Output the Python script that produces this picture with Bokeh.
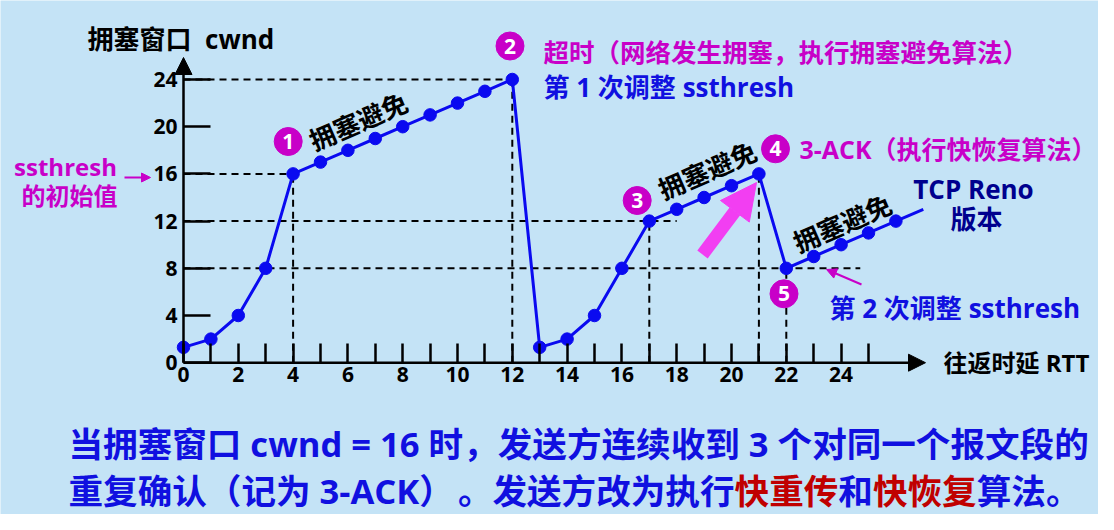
from bokeh.plotting import figure
from bokeh.models import Range1d, FixedTicker, Arrow, NormalHead
from bokeh.core.properties import value
from bokeh.embed import file_html
from bokeh.resources import INLINE

# ---------------- data ----------------
rtt = list(range(0, 27))
cwnd = [1.3, 2, 4, 8, 16, 17, 18, 19, 20, 21, 22, 23, 24,
        1.3, 2, 4, 8, 12, 13, 14, 15, 16,
        8, 9, 10, 11, 12]
tail_rtt = [26, 27]
tail_cwnd = [12, 13]

x_ticks = list(range(0, 26))
x_tick_labels = {i: (str(i) if i % 2 == 0 else "") for i in x_ticks}
y_ticks = [0, 4, 8, 12, 16, 20, 24]

# guide lines: horizontal (cwnd level, rtt end), vertical (rtt, cwnd top)
h_guides_y = [24, 16, 12, 8]
h_guides_x_end = [12, 4, 18, 24.7]
v_guides_x = [4, 12, 17, 21, 22]
v_guides_y_top = [16, 24, 12, 16, 8]

event_labels = ["1", "2", "3", "4", "5"]

# ---------------- styling / layout helpers ----------------
BG = "#C4E3F6"
BLUE = "#0A0AF0"
TXT_BLUE = "#1010E0"
MAG = "#C800C8"
PINK = "#F23EF2"
NAVY = "#00008E"
RED = "#C00000"
FONT = "'Open Sans', 'Noto Sans CJK SC'"
CJK = value(FONT)

W, H = 1098, 514
SX, SY = 27.4, 11.8
OX, OY = 183.0, 362.2  # pixel of (0,0)


def dx(px):
    return (px - OX) / SX


def dy(py):
    return (OY - py) / SY


p = figure(width=W, height=H,
           x_range=Range1d(dx(0), dx(W)),
           y_range=Range1d(dy(H), dy(0)),
           output_backend="svg", toolbar_location=None,
           min_border=0, background_fill_color=BG, border_fill_color=BG,
           outline_line_color=None)
p.grid.visible = False

for ax in (p.xaxis, p.yaxis):
    ax.fixed_location = 0
    ax.axis_line_color = None
    ax.minor_tick_line_color = None
    ax.major_tick_out = 0
    ax.major_tick_line_color = "black"
    ax.major_tick_line_width = 2.5
    ax.major_label_text_font = FONT
    ax.major_label_text_font_style = "bold"
    ax.major_label_text_font_size = "21px"
    ax.major_label_text_color = "black"

p.xaxis.ticker = FixedTicker(ticks=x_ticks)
p.xaxis.major_label_overrides = x_tick_labels
p.xaxis.major_tick_in = 19
p.xaxis.major_label_standoff = 4

p.yaxis.ticker = FixedTicker(ticks=y_ticks)
p.yaxis.major_tick_in = 27
p.yaxis.major_label_standoff = 6

# axis lines with arrows
p.add_layout(Arrow(end=NormalHead(size=17, fill_color="black", line_color="black"),
                   x_start=0, y_start=0, x_end=0, y_end=dy(57),
                   line_width=2.5, line_color="black"))
p.add_layout(Arrow(end=NormalHead(size=17, fill_color="black", line_color="black"),
                   x_start=0, y_start=0, x_end=dx(925), y_end=0,
                   line_width=2.5, line_color="black"))

# dashed guides
p.segment(x0=[0] * len(h_guides_y), y0=h_guides_y, x1=h_guides_x_end, y1=h_guides_y,
          line_color="black", line_width=2, line_dash="7 5")
p.segment(x0=v_guides_x, y0=[0] * len(v_guides_x), x1=v_guides_x, y1=v_guides_y_top,
          line_color="black", line_width=2, line_dash="7 5")

# main series
p.line(rtt, cwnd, line_color=BLUE, line_width=3)
p.line(tail_rtt, tail_cwnd, line_color=BLUE, line_width=3)
p.scatter(rtt, cwnd, size=12.5, fill_color=BLUE, line_color=BLUE)

# big pink arrow
p.add_layout(Arrow(end=NormalHead(size=36, fill_color=PINK, line_color=PINK),
                   x_start=dx(702), y_start=dy(254), x_end=dx(756), y_end=dy(182),
                   line_width=13, line_color=PINK))
# small arrows
p.add_layout(Arrow(end=NormalHead(size=9, fill_color=MAG, line_color=MAG),
                   x_start=dx(124), y_start=dy(177), x_end=dx(150), y_end=dy(177),
                   line_width=2, line_color=MAG))
p.add_layout(Arrow(end=NormalHead(size=10, fill_color=MAG, line_color=MAG),
                   x_start=dx(861), y_start=dy(284), x_end=dx(826), y_end=dy(269),
                   line_width=2, line_color=MAG))

# numbered circles
cx = [dx(287.7), dx(509.5), dx(636.7), dx(775), dx(783.5)]
cy = [dy(141), dy(45.5), dy(200), dy(148.3), dy(293.3)]
p.scatter(cx, cy, size=28, fill_color=MAG, line_color=MAG)
p.text(cx, cy, text=event_labels, text_color="white", text_font=CJK,
       text_font_style="bold", text_font_size="21px",
       text_align="center", text_baseline="middle")


def label(px, py, s, color, size, align="left", angle=0.0, x_offset=0):
    p.text(x=[dx(px)], y=[dy(py)], text=[s], text_color=color, text_font=CJK,
           text_font_style="bold", text_font_size=size, text_align=align,
           text_baseline="middle", angle=angle, x_offset=x_offset)


label(87, 38, "拥塞窗口\u00a0\u00a0cwnd", "black", "26px")
label(65, 166, "ssthresh", MAG, "24px", "center")
label(69, 195, "的初始值", MAG, "24px", "center")
label(543, 51, "超时（网络发生拥塞，执行拥塞避免算法）", MAG, "25.5px")
label(543, 86, "第 1 次调整 ssthresh", TXT_BLUE, "26px")
label(799, 148, "3-ACK（执行快恢复算法）", MAG, "25px")
label(973, 188, "TCP Reno", NAVY, "26px", "center")
label(976, 218, "版本", NAVY, "26px", "center")
label(829, 307, "第 2 次调整 ssthresh", TXT_BLUE, "26px")
label(943, 362, "往返时延 RTT", "black", "24px")
for (px, py) in [(358, 121), (707, 170), (842, 223)]:
    label(px, py, "拥塞避免", "black", "26px", "center", 0.41)

# bottom explanation
FS = 34.6
fs = f"{FS}px"
label(68, 443, "当拥塞窗口 cwnd = 16 时，发送方连续收到 3 个对同一个报文段的", TXT_BLUE, fs)
label(68, 490, "重复确认（记为 3-ACK）", TXT_BLUE, fs)
pieces = [("算法。", TXT_BLUE, 0), ("快恢复", RED, 3), ("和", TXT_BLUE, 6),
          ("快重传", RED, 7), ("。发送方改为执行", TXT_BLUE, 10)]
for s, col, k in pieces:
    label(1080, 490, s, col, fs, "right", 0.0, -k * FS)

open("out.html", "w").write(file_html(p, INLINE))
